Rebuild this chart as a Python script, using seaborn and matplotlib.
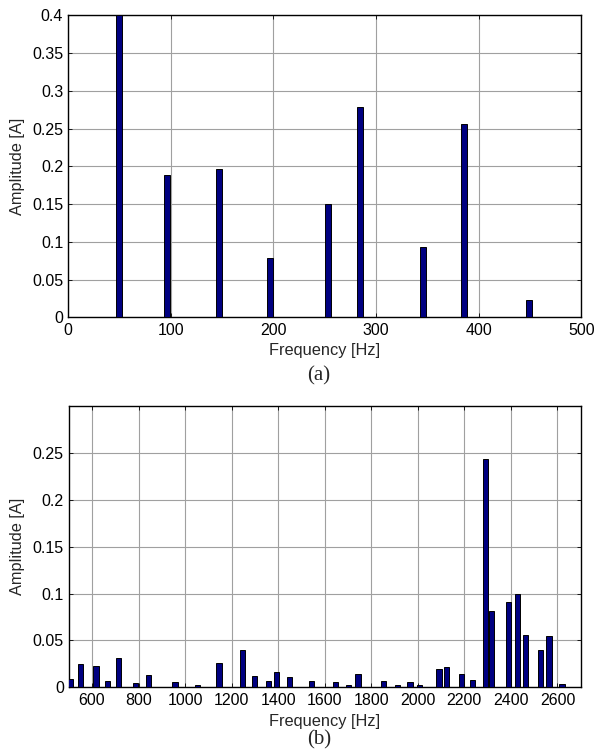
import numpy as np
import pandas as pd
import matplotlib
matplotlib.use("Agg")
import matplotlib.pyplot as plt
import seaborn as sns
from matplotlib.ticker import FuncFormatter

# ---- data (a) ----
freq_a = [50, 96, 147, 197, 253, 284, 346, 386, 449]
amp_a = [0.40, 0.189, 0.197, 0.078, 0.150, 0.278, 0.093, 0.256, 0.023]

# ---- data (b) ----
freq_b = [507, 550, 617, 666, 714, 786, 843, 957, 1052, 1145, 1248, 1297, 1358,
          1394, 1450, 1544, 1646, 1703, 1743, 1853, 1912, 1966, 2006, 2091,
          2122, 2189, 2234, 2291, 2317, 2391, 2427, 2463, 2527, 2564, 2620]
amp_b = [0.009, 0.025, 0.023, 0.007, 0.031, 0.005, 0.013, 0.006, 0.003, 0.026,
         0.040, 0.012, 0.007, 0.016, 0.011, 0.007, 0.006, 0.002, 0.014, 0.007,
         0.003, 0.006, 0.003, 0.019, 0.022, 0.014, 0.008, 0.243, 0.081, 0.091,
         0.100, 0.056, 0.040, 0.055, 0.004]

xticks_a = [0, 100, 200, 300, 400, 500]
yticks_a = [0, 0.05, 0.1, 0.15, 0.2, 0.25, 0.3, 0.35, 0.4]
xticks_b = [600, 800, 1000, 1200, 1400, 1600, 1800, 2000, 2200, 2400, 2600]
yticks_b = [0, 0.05, 0.1, 0.15, 0.2, 0.25]

sns.set_theme(style="white")
plt.rcParams['font.family'] = ['Liberation Sans', 'DejaVu Sans']

BAR = '#000080'
GRID = '#a0a0a0'
TICK_FS = 11.5
LABEL_FS = 11.8

fig = plt.figure(figsize=(5.95, 7.51), dpi=100)
ax1 = fig.add_axes([0.1143, 0.5775, 0.863, 0.4021])
ax2 = fig.add_axes([0.1155, 0.0848, 0.8605, 0.3746])


def draw(ax, f, a, bar_w, xlim, ylim, xt, yt, xlab_y, ylab_x):
    df = pd.DataFrame({"f": f, "a": a})
    mind = np.min(np.diff(np.sort(np.array(f, dtype=float))))
    sns.barplot(data=df, x="f", y="a", native_scale=True, width=bar_w / mind,
                color=BAR, saturation=1, edgecolor='black', linewidth=0.7,
                ax=ax, zorder=3)
    ax.set_xlim(*xlim)
    ax.set_ylim(*ylim)
    ax.set_xticks(xt)
    ax.set_yticks(yt)
    fmt = FuncFormatter(lambda v, p: '%g' % round(v, 4))
    ax.xaxis.set_major_formatter(fmt)
    ax.yaxis.set_major_formatter(fmt)
    ax.grid(True, color=GRID, linewidth=0.8, linestyle='-', zorder=0)
    ax.set_axisbelow(True)
    for s in ax.spines.values():
        s.set_visible(True)
        s.set_color('black')
        s.set_linewidth(1.0)
    ax.tick_params(direction='in', length=3, width=0.6, top=True, right=True,
                   bottom=True, left=True, labelsize=TICK_FS, colors='black',
                   pad=3.5)
    ax.tick_params(axis='x', pad=4)
    ax.set_xlabel('Frequency [Hz]', fontsize=LABEL_FS, va='center')
    ax.set_ylabel('Amplitude [A]', fontsize=LABEL_FS, va='center')
    ax.xaxis.set_label_coords(0.5, xlab_y)
    ax.yaxis.set_label_coords(ylab_x, 0.5)


draw(ax1, freq_a, amp_a, 5.8, (0, 500), (0, 0.4), xticks_a, yticks_a,
     -0.110, -0.099)
draw(ax2, freq_b, amp_b, 23, (500, 2700), (0, 0.3), xticks_b, yticks_b,
     -0.122, -0.100)

fig.text(319 / 595, 1 - 376 / 751, '(a)', ha='center', va='center',
         fontsize=15, family=['Liberation Serif', 'DejaVu Serif'])
fig.text(319 / 595, 1 - 740 / 751, '(b)', ha='center', va='center',
         fontsize=15, family=['Liberation Serif', 'DejaVu Serif'])

fig.savefig('out.png', dpi=100)
